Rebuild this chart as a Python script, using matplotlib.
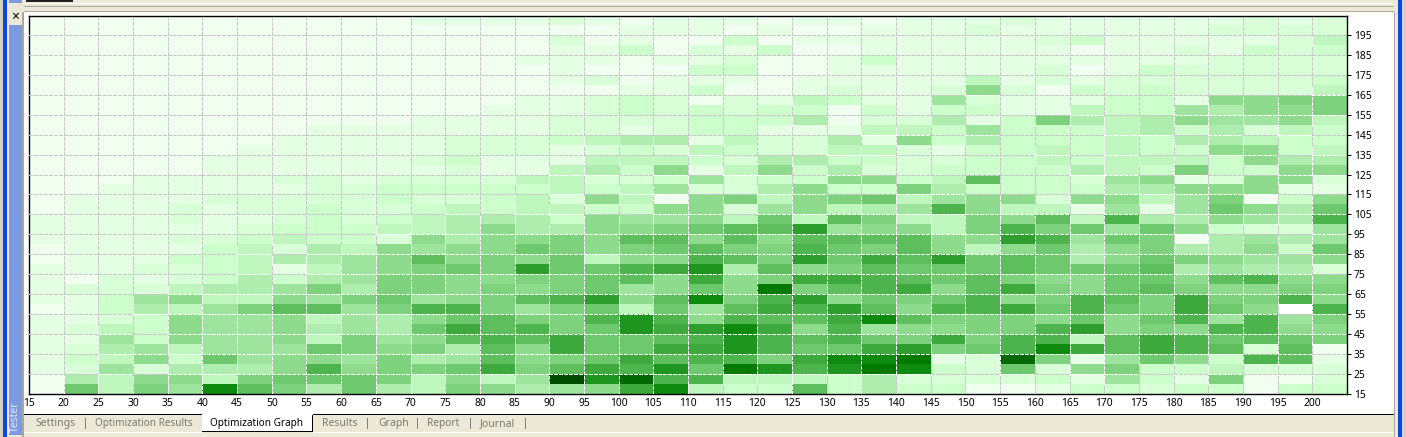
import matplotlib
matplotlib.use("Agg")
import matplotlib.pyplot as plt
import numpy as np
from matplotlib.collections import LineCollection
from matplotlib.colors import ListedColormap
from matplotlib.patches import Rectangle

W, H = 1406, 437
PX = 72 / 100  # one pixel in points at dpi 100

# Result level per cell, one list per x value, bottom row (y = 15) first
col_15 = [1,1,2,2,2,2,2,2,1,2,2,2,2,1,1,2,2,2,1,1,1,1,1,1,1,1,1,1,1,1,1,1,1,1,1,1,1,1]
col_20 = [10,6,3,4,3,2,3,2,2,2,3,1,2,2,2,2,2,2,2,2,1,1,1,1,1,1,1,1,1,1,1,1,1,1,1,1,1,1]
col_25 = [5,5,7,5,6,7,5,3,4,4,3,3,2,2,2,2,2,2,2,2,2,1,1,1,1,1,1,1,1,1,1,1,1,1,1,1,1,1]
col_30 = [9,8,3,8,7,4,4,4,6,7,3,2,3,2,2,2,2,2,2,2,2,2,1,1,1,1,1,1,1,1,1,1,1,1,1,1,1,1]
col_35 = [7,8,6,4,5,8,8,8,5,8,5,3,3,4,2,3,2,3,3,2,2,2,1,1,1,1,1,1,1,1,1,1,1,1,1,1,1,1]
col_40 = [16,5,6,10,7,7,7,7,7,5,6,4,4,4,4,3,2,2,2,3,2,2,2,2,1,1,1,1,1,1,1,1,1,1,1,1,1,1]
col_45 = [11,9,6,7,7,7,7,7,9,5,6,6,5,5,5,4,3,2,3,3,2,2,2,2,2,1,1,1,1,1,1,1,1,1,1,1,1,1]
col_50 = [9,10,8,8,7,8,8,8,11,8,7,4,2,6,3,5,4,3,3,3,2,3,2,2,2,2,1,1,1,1,1,1,1,1,1,1,1,1]
col_55 = [6,10,12,8,10,5,6,5,11,7,9,6,5,6,6,4,4,4,4,3,3,3,2,2,2,2,2,1,1,1,1,1,1,1,1,1,1,1]
col_60 = [10,10,8,7,9,9,7,7,7,9,6,7,7,7,5,4,4,3,3,3,3,2,2,2,2,2,2,1,1,1,1,1,1,1,1,1,1,1]
col_65 = [6,9,9,9,8,7,6,6,9,10,9,9,8,8,8,3,5,4,3,4,4,3,2,2,2,2,2,1,1,1,1,1,1,1,1,1,1,1]
col_70 = [5,5,9,6,9,8,10,8,12,7,9,9,9,11,7,8,5,5,4,3,4,3,2,3,2,2,2,2,1,1,1,1,1,1,1,1,1,2]
col_75 = [9,8,10,7,6,11,13,10,12,8,8,8,10,8,8,6,6,6,5,3,4,3,3,4,3,3,2,2,1,1,1,1,1,1,1,1,1,2]
col_80 = [8,5,13,11,11,12,11,11,9,9,9,8,9,9,8,8,8,6,4,4,4,3,2,2,3,3,2,2,2,1,1,1,1,1,1,1,1,2]
col_85 = [6,7,9,8,8,11,12,9,7,11,8,9,14,8,10,8,6,6,5,5,4,5,2,2,3,3,2,2,2,2,1,1,1,2,1,1,1,2]
col_90 = [7,19,11,9,13,13,9,9,9,12,9,9,10,10,9,9,6,4,5,3,5,5,5,2,2,4,3,3,2,2,1,2,2,2,2,3,1,3]
col_95 = [8,15,13,10,10,10,10,12,10,14,10,10,10,5,8,8,8,8,4,8,4,3,6,5,3,5,3,3,3,3,1,3,1,2,2,1,1,2]
col_100 = [13,18,12,13,10,10,15,15,5,8,7,11,12,8,9,11,8,7,4,5,5,3,4,5,4,6,2,3,4,4,2,1,1,1,4,2,2,1]
col_105 = [16,12,15,11,13,11,13,12,10,11,8,8,13,8,10,11,9,7,8,1,7,4,8,5,3,6,3,3,3,3,2,2,1,2,1,1,2,2]
col_110 = [5,12,10,12,13,12,14,8,7,16,10,13,15,12,11,8,10,8,8,8,3,7,2,4,5,2,4,4,4,1,4,2,4,2,3,1,2,2]
col_115 = [4,5,17,12,15,15,16,12,11,9,8,8,6,11,9,11,11,5,3,9,3,3,5,3,4,5,4,4,3,3,1,2,4,3,2,4,1,2]
col_120 = [4,5,15,9,12,12,13,11,13,12,17,9,11,9,9,8,11,10,7,5,6,4,8,6,3,3,2,4,4,2,1,1,1,1,4,1,2,1]
col_125 = [11,5,12,13,10,11,8,11,12,14,9,13,8,14,12,11,14,5,8,8,8,4,4,6,3,3,2,6,4,5,2,2,1,1,1,2,1,2]
col_130 = [4,4,15,16,10,12,12,13,14,8,11,13,9,10,10,11,7,11,5,9,4,8,6,4,5,6,2,1,1,4,3,2,2,2,1,2,1,2]
col_135 = [6,6,17,16,13,10,7,16,11,10,12,12,11,13,9,11,8,9,6,10,4,8,3,4,5,2,5,3,4,2,2,2,2,4,2,2,2,1]
col_140 = [4,3,16,17,14,9,8,11,8,9,13,11,10,11,11,11,8,5,7,5,9,4,3,3,3,8,5,3,2,2,2,2,2,2,2,2,2,2]
col_145 = [4,3,4,2,9,13,8,9,12,10,8,10,10,14,8,8,5,5,12,7,6,5,4,3,2,4,4,6,4,7,3,2,2,2,2,2,2,2]
col_150 = [1,3,3,3,10,9,9,9,12,12,11,11,10,10,5,8,9,9,8,8,4,11,4,4,4,6,7,2,4,3,8,5,2,2,2,2,3,2]
col_155 = [1,3,10,18,12,12,9,9,13,8,13,9,11,11,8,14,12,8,5,8,4,4,4,4,4,4,4,4,2,2,3,2,2,2,2,2,2,3]
col_160 = [2,4,3,9,16,12,12,8,10,9,9,8,10,10,10,12,9,11,5,3,4,4,4,5,5,4,4,9,2,2,1,3,3,2,2,3,2,2]
col_165 = [4,2,8,2,13,5,14,10,12,12,8,8,10,6,6,7,10,5,2,8,4,3,6,4,4,4,4,6,5,2,4,2,1,2,1,4,2,2]
col_170 = [4,7,9,7,11,11,8,8,10,11,10,10,10,8,8,10,7,12,7,8,6,7,5,5,5,5,5,5,4,4,3,3,2,2,2,2,2,2]
col_175 = [3,4,4,10,13,13,9,10,9,9,11,10,11,10,9,9,10,6,2,5,6,8,4,5,4,4,6,6,4,4,4,3,4,2,2,2,2,2]
col_180 = [4,2,4,8,12,12,8,12,13,13,9,8,6,9,6,1,8,6,7,7,8,2,9,5,4,6,4,8,7,2,3,3,3,2,3,2,2,2]
col_185 = [4,9,5,4,11,10,12,7,10,9,8,11,7,8,6,6,4,8,10,9,8,3,4,4,8,6,6,7,6,8,3,3,3,3,2,2,3,2]
col_190 = [1,1,3,12,3,11,12,12,8,9,8,12,6,7,8,7,3,7,8,1,8,8,4,8,8,5,3,7,8,8,3,3,3,3,4,2,3,3]
col_195 = [4,1,3,11,11,10,8,7,0,12,9,8,6,7,4,6,3,6,6,4,2,8,8,6,4,4,5,8,8,9,3,3,3,3,3,3,3,2]
col_200 = [4,3,3,2,1,9,8,9,12,8,9,8,3,8,10,7,7,12,10,8,2,3,8,6,5,4,4,5,9,9,5,4,3,3,4,5,3,3]

x_ticks = [15, 20, 25, 30, 35, 40, 45, 50, 55, 60, 65, 70, 75, 80, 85, 90, 95, 100, 105,
           110, 115, 120, 125, 130, 135, 140, 145, 150, 155, 160, 165, 170, 175, 180,
           185, 190, 195, 200]
y_ticks = [15, 25, 35, 45, 55, 65, 75, 85, 95, 105, 115, 125, 135, 145, 155, 165, 175,
           185, 195]

level_colors = ["#ffffff", "#f0fff0", "#e4ffe4", "#d8ffd8", "#ccffcc", "#bef6be", "#aeedae",
                "#9ee49e", "#8edb8e", "#7ed27e", "#6ec86e", "#5ebe5e", "#4eb44e", "#3eaa3e",
                "#2e9f2e", "#1e951e", "#0e8a0e", "#007a00", "#006800", "#004a00"]

tabs_left = [("Settings", 35, 7.5), ("Optimization Results", 95, 7.2)]
tabs_right = [("Results", 322, 7.5), ("Graph", 378, 7.5), ("Report", 427, 7.3), ("Journal", 480, 7.5)]
tab_separators = [85, 367, 417, 470, 525]

plt.rcParams["font.family"] = ["Noto Sans", "DejaVu Sans"]

fig = plt.figure(figsize=(W / 100, H / 100), dpi=100, facecolor="#ece9d8")

# window frame, drawn in pixel coordinates
frame = fig.add_axes([0, 0, 1, 1])
frame.set_xlim(0, W)
frame.set_ylim(H, 0)
frame.axis("off")


def box(x0, y0, x1, y1, color, zorder=1):
    frame.add_patch(Rectangle((x0, y0), x1 - x0, y1 - y0, facecolor=color, edgecolor="none",
                              zorder=zorder))


box(24, 12, 1394, 414, "white")
box(0, 0, 3, H, "#d4d0c8")
box(3, 0, 7, H, "#0a46e0")
box(9, 0, 22, 3, "#7b9ae0")
box(9, 25, 22, H - 2, "#7b9ae0")
box(22, 12, 24, H, "#aca899")
box(24, 3, 1394, 4, "white")
box(24, 6, 1394, 7, "#aca899")
box(24, 11, 1394, 12, "#aca899")
box(26, 0, 73, 2, "#222222")
box(1398, 0, 1402, H, "#0a46e0")
box(1402, 0, 1406, H, "#d4d0c8")
box(1394, 12, 1395, H, "#aca899")

# tab strip along the bottom
box(24, 414, 202, 415, "black", 3)
box(313, 414, 1394, 415, "black", 3)
box(202, 414, 313, 431, "white", 2)
box(202, 431, 313, 432, "black", 3)
box(312, 415, 313, 432, "black", 3)
box(24, 432, 202, 433, "white")
box(313, 432, 1394, 433, "white")
for x in tab_separators:
    box(x, 418, x + 1, 429, "#808080")
for label, x, size in tabs_left + tabs_right:
    frame.text(x, 423.5, label, fontsize=size, color="#7a7a70", va="center", ha="left")
frame.text(257, 423.5, "Optimization Graph", fontsize=7.2, color="black", va="center",
           ha="center", zorder=4)
frame.text(15.5, 17.5, "\u00d7", fontsize=10, color="black", va="center", ha="center",
           fontweight="bold")
frame.text(15.5, 417, "Tester", fontsize=7.4, color="#e8eeff", va="center", ha="center",
           rotation=90)

# optimization graph
x0, x1, y0, y1 = 29, 1347, 16.5, 394
ax = fig.add_axes([x0 / W, 1 - y1 / H, (x1 - x0) / W, (y1 - y0) / H])

levels = np.column_stack([
    col_15, col_20, col_25, col_30, col_35, col_40, col_45, col_50, col_55, col_60, col_65,
    col_70, col_75, col_80, col_85, col_90, col_95, col_100, col_105, col_110, col_115,
    col_120, col_125, col_130, col_135, col_140, col_145, col_150, col_155, col_160,
    col_165, col_170, col_175, col_180, col_185, col_190, col_195, col_200,
])
x_edges = np.arange(15, 210, 5)
y_edges = np.arange(15, 210, 5)
ax.pcolormesh(x_edges, y_edges, levels, cmap=ListedColormap(level_colors), vmin=-0.5,
              vmax=19.5, antialiased=False, shading="flat")
ax.set_xlim(15, 205)
ax.set_ylim(15, 204.2)

# dashed grid: gray over the pale cells, white over the greener ones
segments, seg_colors = [], []
for c, v in enumerate(x_edges[:-1]):
    if v not in x_ticks[1:]:
        continue
    for r, y in enumerate(y_edges[:-1]):
        segments.append([(v, y), (v, y + 5)])
        seg_colors.append("#c8c8c8" if levels[r, c] <= 4 else "white")
for r, y in enumerate(y_edges[:-1]):
    if y not in y_ticks[1:]:
        continue
    for c, v in enumerate(x_edges[:-1]):
        segments.append([(v, y), (v + 5, y)])
        seg_colors.append("#c8c8c8" if levels[r, c] <= 4 else "white")
grid_lines = LineCollection(segments, colors=seg_colors, linewidths=PX,
                            linestyles=[(0, (4, 1.6))], zorder=3, antialiaseds=False)
grid_lines.set_snap(True)
ax.add_collection(grid_lines)

ax.set_xticks(x_ticks)
ax.set_yticks(y_ticks)
ax.yaxis.tick_right()
ax.tick_params(axis="x", length=0, pad=3, labelsize=7.4)
ax.tick_params(axis="y", length=3, width=PX, pad=2, labelsize=7.4)
for spine in ax.spines.values():
    spine.set_linewidth(1.0)

fig.savefig("out.png", dpi=100, facecolor=fig.get_facecolor())
plt.close(fig)
